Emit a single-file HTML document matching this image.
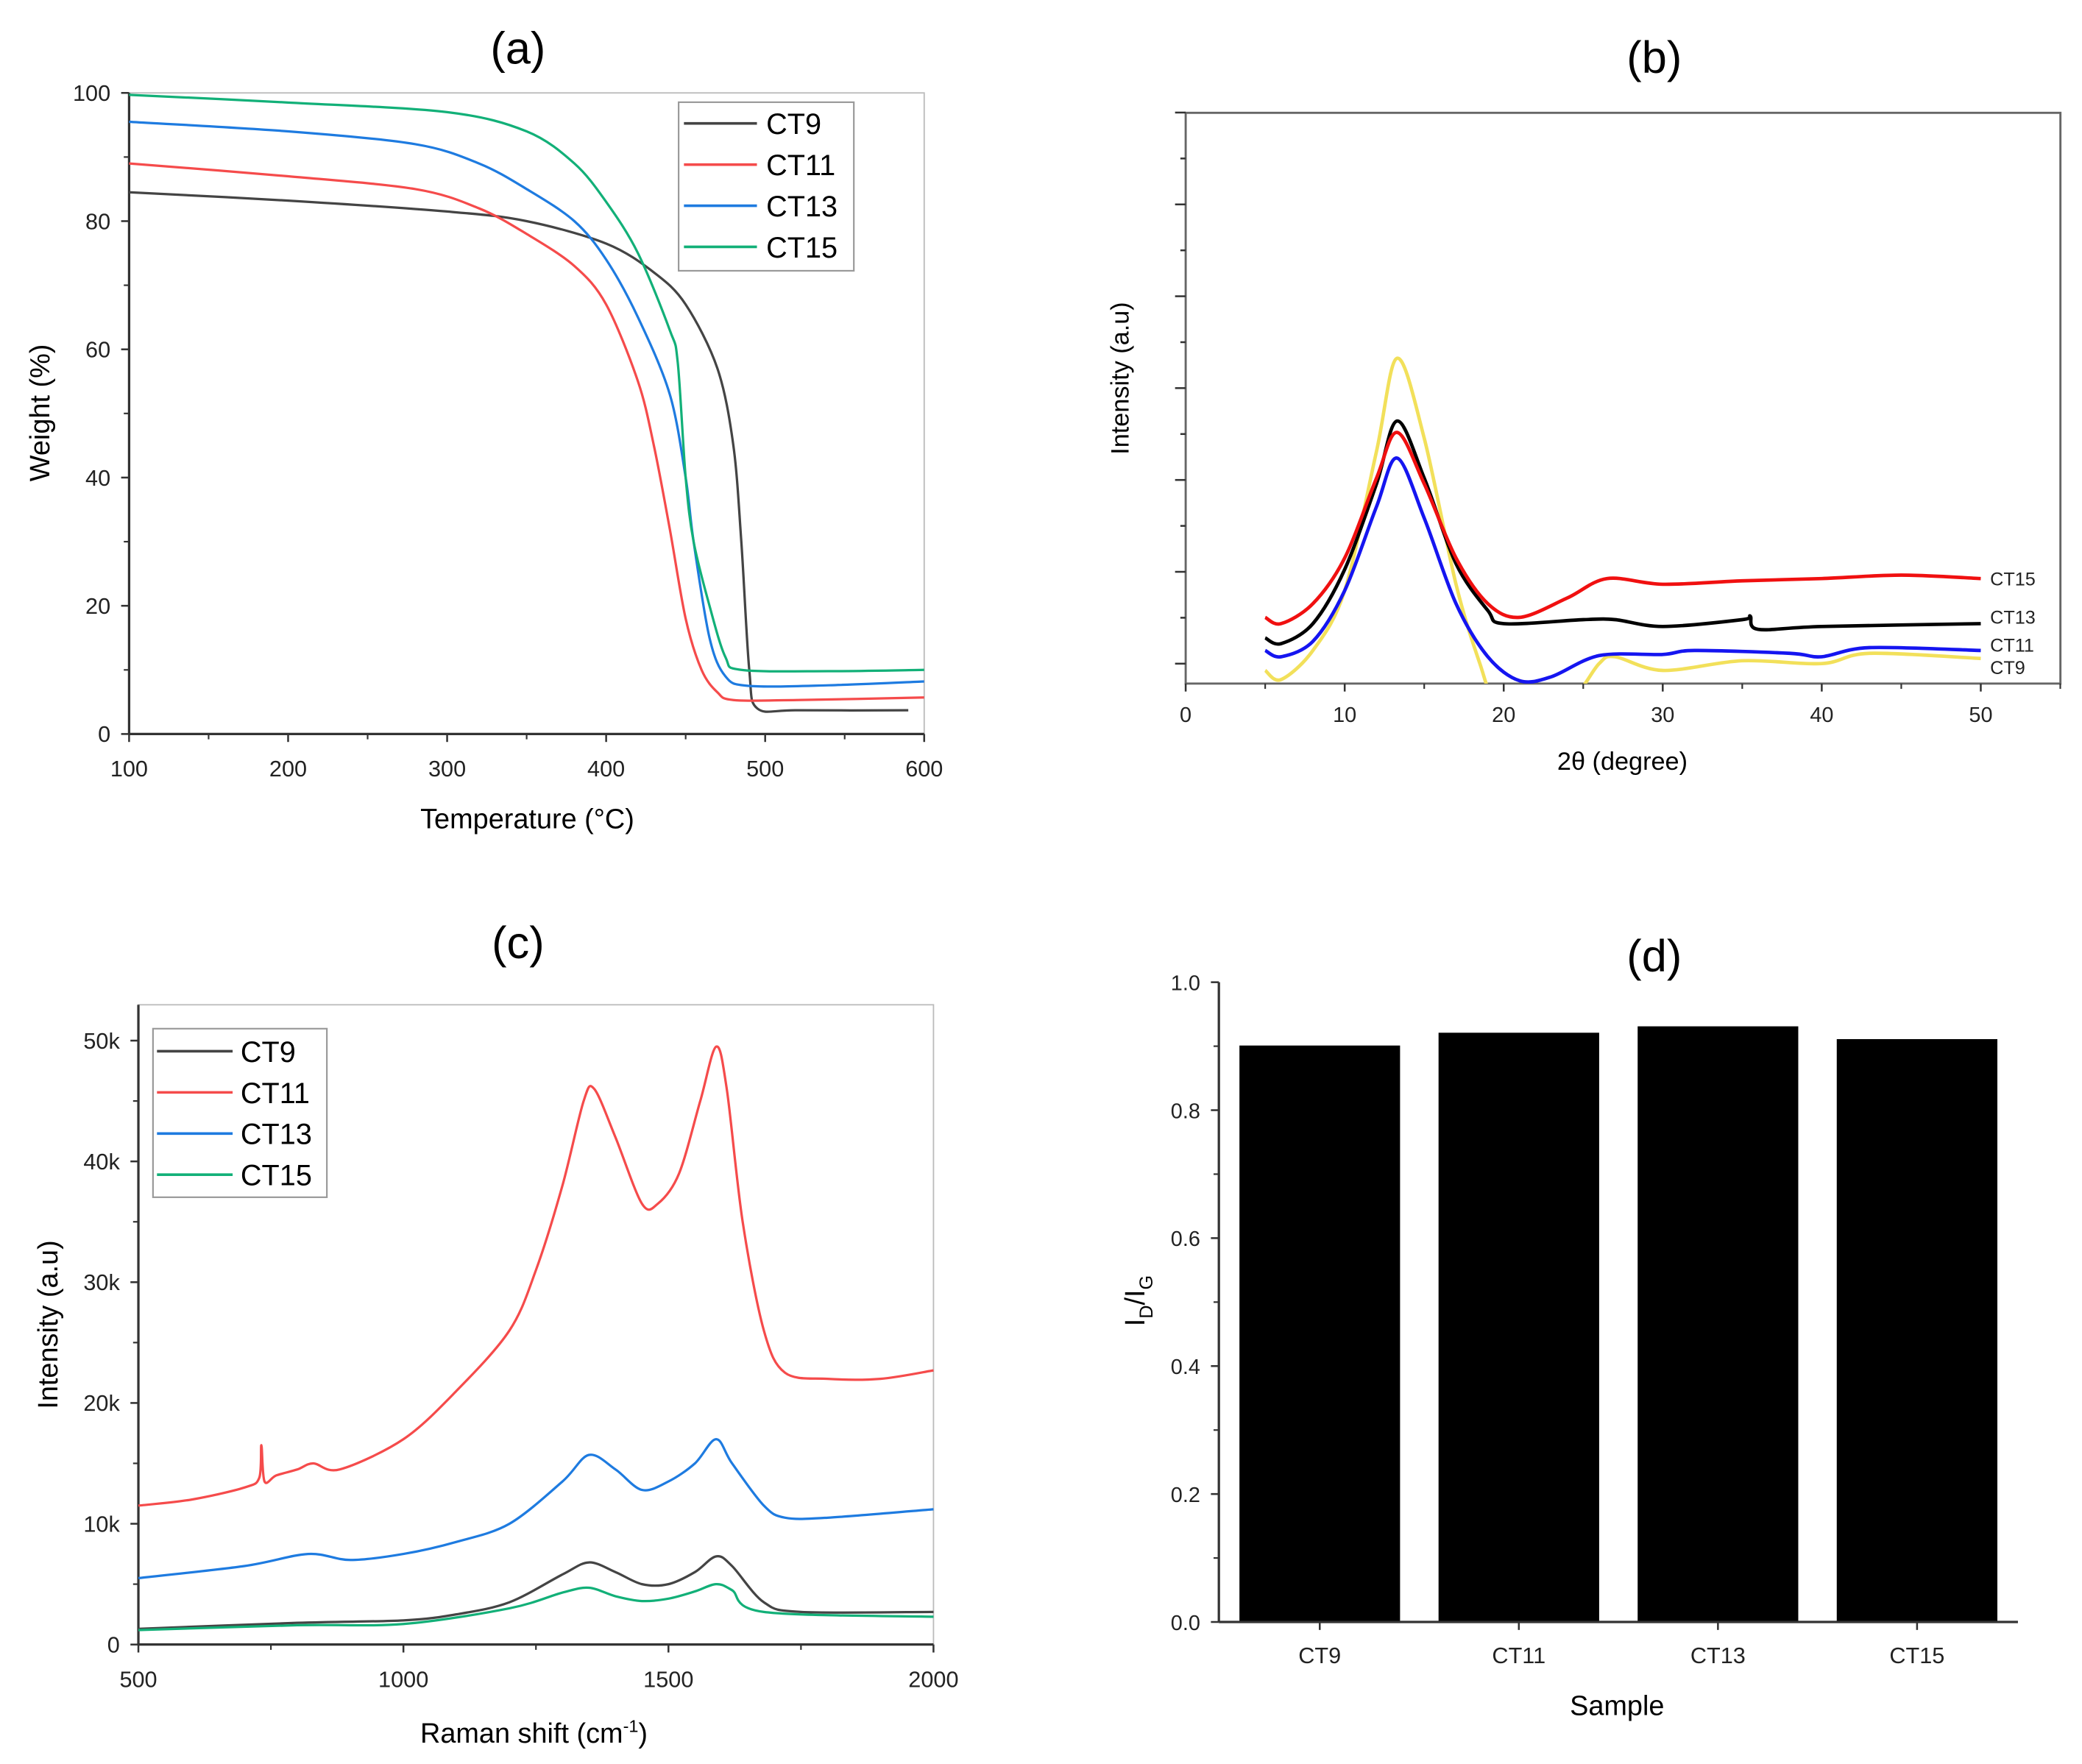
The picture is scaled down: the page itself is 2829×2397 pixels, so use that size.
<!DOCTYPE html>
<html><head><meta charset="utf-8"><style>
html,body{margin:0;padding:0;background:#fff;}
svg{display:block;font-family:"Liberation Sans",Arial,sans-serif;}
</style></head><body>
<svg id="fig" width="2829" height="2397" viewBox="0 0 1568 1329" xmlns="http://www.w3.org/2000/svg">
<rect width="1568" height="1329" fill="#fff"/>
<g id="pa"></g>
<g id="pb"></g>
<g id="pc"></g>
<g id="pd"></g>
</svg>
<script>
// ---------- Panel (a) TGA data ----------
const tgaT9 = [100,200,300,350,400,430,450,470,480,485,490,495,520,590];
const tgaW9 = [84.5,83.2,81.5,80,76.5,72,67,57,45,30,10,4,3.7,3.7];
const tgaT11 = [100,200,280,320,350,380,400,420,430,440,450,460,470,480,520,600];
const tgaW11 = [89,87,85,82,78,73,67,55,45,32,18,10,6.5,5.3,5.3,5.7];
const tgaT13 = [100,200,280,320,350,380,400,420,440,450,455,465,475,490,540,600];
const tgaW13 = [95.5,94,92,89,85,80,74,65,53,40,30,15,9,7.5,7.6,8.2];
const tgaT15 = [100,200,300,350,380,400,420,440,445,450,455,465,475,485,540,600];
const tgaW15 = [99.7,98.5,97,94,89,83,75,63,58,40,30,20,12,10,9.8,10];
const tgaXTicks = [100,200,300,400,500,600];
const tgaYTicks = [0,20,40,60,80,100];

// ---------- Panel (b) XRD data ----------
const xrdX15 = [5,6,8,10,12,13.3,15,17,19,21,24,26.5,30,35,40,45,50];
const xrdY15 = [11.6,10.5,14,22,36,44,35,22,14,11.6,15,18.4,17.4,18,18.4,19,18.4];
const xrdX13 = [5,6,8,10,12,13.3,15,17,19,20,25,27,30,35,35.5,36,40,50];
const xrdY13 = [8,7,10.5,20,35,46,36,21,12.8,10.5,11.2,11.2,10,11.2,11.8,9.5,10,10.5];
const xrdX11 = [5,6,8,10,12,13.3,15,17,19,21,23,26,30,32,38,40,43,50];
const xrdY11 = [5.8,4.7,7.4,16.3,31,39.5,29,14,4.7,0.5,1.2,4.9,5.1,5.8,5.3,4.7,6.3,5.8];
const xrdX9 = [5,6,8,10,12,13.3,15,17,18.5,19.5,22,24.5,26,27,30,35,40,43,50];
const xrdY9 = [2.3,0.7,5.8,16.3,40.7,57,43,17.4,3.5,-3,-6,-2,3.5,4.7,2.3,4,3.5,5.3,4.4];
const xrdXTicks = [0,10,20,30,40,50];

// ---------- Panel (c) Raman data ----------
const ramX11 = [500,600,700,728,732,738,760,800,830,880,1000,1100,1200,1250,1300,1340,1360,1400,1450,1480,1520,1560,1590,1610,1640,1680,1720,1800,1900,2000];
const ramY11 = [11.5,12,13,13.8,16.5,13.5,14,14.5,15,14.5,17,21,26,31,38,45,46,42,36.5,36.5,39,45,49.5,46,35,26,22.5,22,22,22.7];
const ramX13 = [500,700,820,900,1000,1100,1200,1300,1350,1400,1450,1500,1550,1590,1620,1680,1720,1800,2000];
const ramY13 = [5.5,6.5,7.5,7,7.5,8.5,10,13.5,15.7,14.5,12.8,13.5,15,17,15,11.5,10.5,10.5,11.2];
const ramX9 = [500,800,1000,1100,1200,1300,1350,1400,1450,1500,1550,1590,1620,1680,1750,2000];
const ramY9 = [1.3,1.8,2,2.5,3.5,5.8,6.8,6,5,5,6,7.3,6.5,3.5,2.7,2.7];
const ramX15 = [500,800,1000,1200,1300,1350,1400,1450,1500,1550,1590,1620,1680,2000];
const ramY15 = [1.2,1.6,1.7,3,4.3,4.7,4,3.6,3.8,4.4,5,4.5,2.7,2.3];
const ramXTicks = [500,1000,1500,2000];
const ramYTicks = [0,10,20,30,40,50];

// ---------- Panel (d) bar data ----------
const barCats = ["CT9","CT11","CT13","CT15"];
const barVals = [0.90,0.92,0.93,0.91];
const barYTicks = [0.0,0.2,0.4,0.6,0.8,1.0];

const NS="http://www.w3.org/2000/svg";
function mk(parent,tag,attrs,text){const e=document.createElementNS(NS,tag);for(const k in attrs)e.setAttribute(k,attrs[k]);if(text!==undefined)e.textContent=text;parent.appendChild(e);return e;}
function lin(d0,d1,r0,r1){return v=>r0+(v-d0)*(r1-r0)/(d1-d0);}
function spline(xs,ys,sx,sy){
  const p=xs.map((x,i)=>[sx(x),sy(ys[i])]);
  let d="M"+p[0][0].toFixed(2)+","+p[0][1].toFixed(2);
  for(let i=0;i<p.length-1;i++){
    const p0=p[Math.max(0,i-1)],p1=p[i],p2=p[i+1],p3=p[Math.min(p.length-1,i+2)];
    const t=0.16;
    const c1=[p1[0]+(p2[0]-p0[0])*t,p1[1]+(p2[1]-p0[1])*t];
    const c2=[p2[0]-(p3[0]-p1[0])*t,p2[1]-(p3[1]-p1[1])*t];
    d+="C"+c1[0].toFixed(2)+","+c1[1].toFixed(2)+" "+c2[0].toFixed(2)+","+c2[1].toFixed(2)+" "+p2[0].toFixed(2)+","+p2[1].toFixed(2);
  }
  return d;
}

// ===== Panel A =====
(function(){
  const g=document.getElementById('pa');
  const L=97,R=696,T=70,B=553;
  const sx=lin(100,600,L,R), sy=lin(0,100,B,T);
  let t=mk(g,'text',{x:390,y:48,'font-size':34,'text-anchor':'middle'},'(a)');
  
  
  const fr=mk(g,'rect',{x:L,y:T,width:R-L,height:B-T,fill:'none',stroke:'#bbb','stroke-width':1});
  
  
  mk(g,'line',{x1:L,y1:T,x2:L,y2:B,stroke:'#333','stroke-width':1.8});
  mk(g,'line',{x1:L,y1:B,x2:R,y2:B,stroke:'#333','stroke-width':1.8});
  const cols=['#444','#f54b4b','#1e7be0','#12b078'];
  const names=['CT9','CT11','CT13','CT15'];
  const sets=[[tgaT9,tgaW9],[tgaT11,tgaW11],[tgaT13,tgaW13],[tgaT15,tgaW15]];
  sets.forEach((s,i)=>{const p=mk(g,'path',{d:spline(s[0],s[1],sx,sy),fill:'none',stroke:cols[i],'stroke-width':1.8});
    
    });
  tgaXTicks.forEach(v=>{mk(g,'line',{x1:sx(v),y1:B,x2:sx(v),y2:B+6,stroke:'#333','stroke-width':1.4});
    const tx=mk(g,'text',{x:sx(v),y:B+32,'font-size':17,'text-anchor':'middle',fill:'#222'},v);
    
    
    if(v<600)mk(g,'line',{x1:sx(v+50),y1:B,x2:sx(v+50),y2:B+4,stroke:'#333','stroke-width':1.2});});
  tgaYTicks.forEach(v=>{mk(g,'line',{x1:L-6,y1:sy(v),x2:L,y2:sy(v),stroke:'#333','stroke-width':1.4});
    const tx=mk(g,'text',{x:L-14,y:sy(v)+6,'font-size':17,'text-anchor':'end',fill:'#222'},v);
    
    
    if(v<100)mk(g,'line',{x1:L-4,y1:sy(v+10),x2:L,y2:sy(v+10),stroke:'#333','stroke-width':1.2});});
  t=mk(g,'text',{x:397,y:624,'font-size':21,'text-anchor':'middle'},'Temperature (°C)');
  
  
  t=mk(g,'text',{x:0,y:0,'font-size':21,'text-anchor':'middle',transform:'translate(37,311) rotate(-90)'},'Weight (%)');
  
  
  const lg=mk(g,'g',{});
  
  
  mk(lg,'rect',{x:511,y:77,width:132,height:127,fill:'#fff',stroke:'#999','stroke-width':1.2});
  names.forEach((n,i)=>{const y=93+i*31;
    mk(lg,'line',{x1:515,y1:y,x2:570,y2:y,stroke:cols[i],'stroke-width':2});
    const e=mk(lg,'text',{x:577,y:y+8,'font-size':22},n);
    
    });
})();

// ===== Panel B =====
(function(){
  const g=document.getElementById('pb');
  const L=893,R=1552,T=85,B=515;
  const sx=lin(0,50,L,1492), sy=lin(0,100,B,T);
  let t=mk(g,'text',{x:1246,y:55,'font-size':34,'text-anchor':'middle'},'(b)');
  
  
  const cp=mk(g,'clipPath',{id:'cb'});mk(cp,'rect',{x:L,y:T,width:R-L,height:B-T});
  mk(g,'rect',{x:L,y:T,width:R-L,height:B-T,fill:'none',stroke:'#666','stroke-width':1.6});
  const cols=['#f2e05a','#1515f0','#000','#f01010'];
  const names=['CT9','CT11','CT13','CT15'];
  const sets=[[xrdX9,xrdY9],[xrdX11,xrdY11],[xrdX13,xrdY13],[xrdX15,xrdY15]];
  const cg=mk(g,'g',{'clip-path':'url(#cb)'});
  sets.forEach((s,i)=>{const p=mk(cg,'path',{d:spline(s[0],s[1],sx,sy),fill:'none',stroke:cols[i],'stroke-width':2.6});
    
    });
  xrdXTicks.forEach(v=>{mk(g,'line',{x1:sx(v),y1:B,x2:sx(v),y2:B+6,stroke:'#333','stroke-width':1.4});
    const tx=mk(g,'text',{x:sx(v),y:B+29,'font-size':16,'text-anchor':'middle',fill:'#222'},v);
    
    
    mk(g,'line',{x1:sx(v+5),y1:B,x2:sx(v+5),y2:B+4,stroke:'#333','stroke-width':1.2});});
  for(let i=0;i<=12;i++){const y=500-i*34.6;if(y<T-1)break;
    mk(g,'line',{x1:i%2==0?L-8:L-4,y1:y,x2:L,y2:y,stroke:'#333','stroke-width':1.4});}
  t=mk(g,'text',{x:1222,y:580,'font-size':19,'text-anchor':'middle'},'2θ (degree)');
  
  
  t=mk(g,'text',{x:0,y:0,'font-size':19,'text-anchor':'middle',transform:'translate(850,285) rotate(-90)'},'Intensity (a.u)');
  
  
  [['CT15',441],['CT13',470],['CT11',491],['CT9',508]].forEach(a=>{
    const e=mk(g,'text',{x:1499,y:a[1],'font-size':14,fill:'#222'},a[0]);
    
    });
})();

// ===== Panel C =====
(function(){
  const g=document.getElementById('pc');
  const L=104,R=703,T=757,B=1239;
  const sx=lin(500,2000,L,R), sy=lin(0,50,B,784);
  let t=mk(g,'text',{x:390,y:722,'font-size':34,'text-anchor':'middle'},'(c)');
  
  
  mk(g,'rect',{x:L,y:T,width:R-L,height:B-T,fill:'none',stroke:'#bbb','stroke-width':1});
  mk(g,'line',{x1:L,y1:T,x2:L,y2:B,stroke:'#333','stroke-width':1.8});
  mk(g,'line',{x1:L,y1:B,x2:R,y2:B,stroke:'#333','stroke-width':1.8});
  const cols=['#444','#f54b4b','#1e7be0','#12b078'];
  const names=['CT9','CT11','CT13','CT15'];
  const sets=[[ramX9,ramY9],[ramX11,ramY11],[ramX13,ramY13],[ramX15,ramY15]];
  sets.forEach((s,i)=>{const p=mk(g,'path',{d:spline(s[0],s[1],sx,sy),fill:'none',stroke:cols[i],'stroke-width':1.8});
    
    });
  ramXTicks.forEach(v=>{mk(g,'line',{x1:sx(v),y1:B,x2:sx(v),y2:B+6,stroke:'#333','stroke-width':1.4});
    const tx=mk(g,'text',{x:sx(v),y:B+32,'font-size':17,'text-anchor':'middle',fill:'#222'},v);
    
    
    if(v<2000)mk(g,'line',{x1:sx(v+250),y1:B,x2:sx(v+250),y2:B+4,stroke:'#333','stroke-width':1.2});});
  ramYTicks.forEach(v=>{mk(g,'line',{x1:L-6,y1:sy(v),x2:L,y2:sy(v),stroke:'#333','stroke-width':1.4});
    const tx=mk(g,'text',{x:L-14,y:sy(v)+6,'font-size':17,'text-anchor':'end',fill:'#222'},v===0?'0':v+'k');
    
    
    if(v<50)mk(g,'line',{x1:L-4,y1:sy(v+5),x2:L,y2:sy(v+5),stroke:'#333','stroke-width':1.2});});
  t=mk(g,'text',{x:402,y:1313,'font-size':21,'text-anchor':'middle'});
  
  
  t.innerHTML='Raman shift (cm<tspan dy="-8" font-size="13">-1</tspan><tspan dy="8">)</tspan>';
  t=mk(g,'text',{x:0,y:0,'font-size':21,'text-anchor':'middle',transform:'translate(43,998) rotate(-90)'},'Intensity (a.u)');
  
  
  const lg=mk(g,'g',{});
  
  
  mk(lg,'rect',{x:115,y:775,width:131,height:127,fill:'#fff',stroke:'#999','stroke-width':1.2});
  names.forEach((n,i)=>{const y=792+i*31;
    mk(lg,'line',{x1:118,y1:y,x2:175,y2:y,stroke:cols[i],'stroke-width':2});
    const e=mk(lg,'text',{x:181,y:y+8,'font-size':22},n);
    
    });
})();

// ===== Panel D =====
(function(){
  const g=document.getElementById('pd');
  const L=918,R=1520,B=1222,T=740;
  const sy=lin(0,1,B,T);
  const band=150, x0=919;
  let t=mk(g,'text',{x:1246,y:732,'font-size':34,'text-anchor':'middle'},'(d)');
  
  
  barCats.forEach((c,i)=>{const cx=x0+band*(i+0.5);const w=band*0.8;
    const r=mk(g,'rect',{x:cx-w/2,y:sy(barVals[i]),width:w,height:B-sy(barVals[i]),fill:'#000',stroke:'#000'});
    
    
    mk(g,'line',{x1:cx,y1:B,x2:cx,y2:B+6,stroke:'#333','stroke-width':1.4});
    const tx=mk(g,'text',{x:cx,y:B+31,'font-size':17,'text-anchor':'middle',fill:'#222'},c);
    
    });
  mk(g,'line',{x1:L,y1:T,x2:L,y2:B,stroke:'#333','stroke-width':1.8});
  mk(g,'line',{x1:L,y1:B,x2:R,y2:B,stroke:'#333','stroke-width':1.8});
  barYTicks.forEach(v=>{mk(g,'line',{x1:L-6,y1:sy(v),x2:L,y2:sy(v),stroke:'#333','stroke-width':1.4});
    const tx=mk(g,'text',{x:L-14,y:sy(v)+6,'font-size':16,'text-anchor':'end',fill:'#222'},v.toFixed(1));
    
    
    if(v<1)mk(g,'line',{x1:L-4,y1:sy(v+0.1),x2:L,y2:sy(v+0.1),stroke:'#333','stroke-width':1.2});});
  t=mk(g,'text',{x:1218,y:1292,'font-size':21,'text-anchor':'middle'},'Sample');
  
  
  t=mk(g,'text',{x:0,y:0,'font-size':21,'text-anchor':'middle',transform:'translate(862,980) rotate(-90)'});
  
  
  t.innerHTML='I<tspan dy="6" font-size="14">D</tspan><tspan dy="-6">/I</tspan><tspan dy="6" font-size="14">G</tspan>';
})();
</script>
</body></html>
